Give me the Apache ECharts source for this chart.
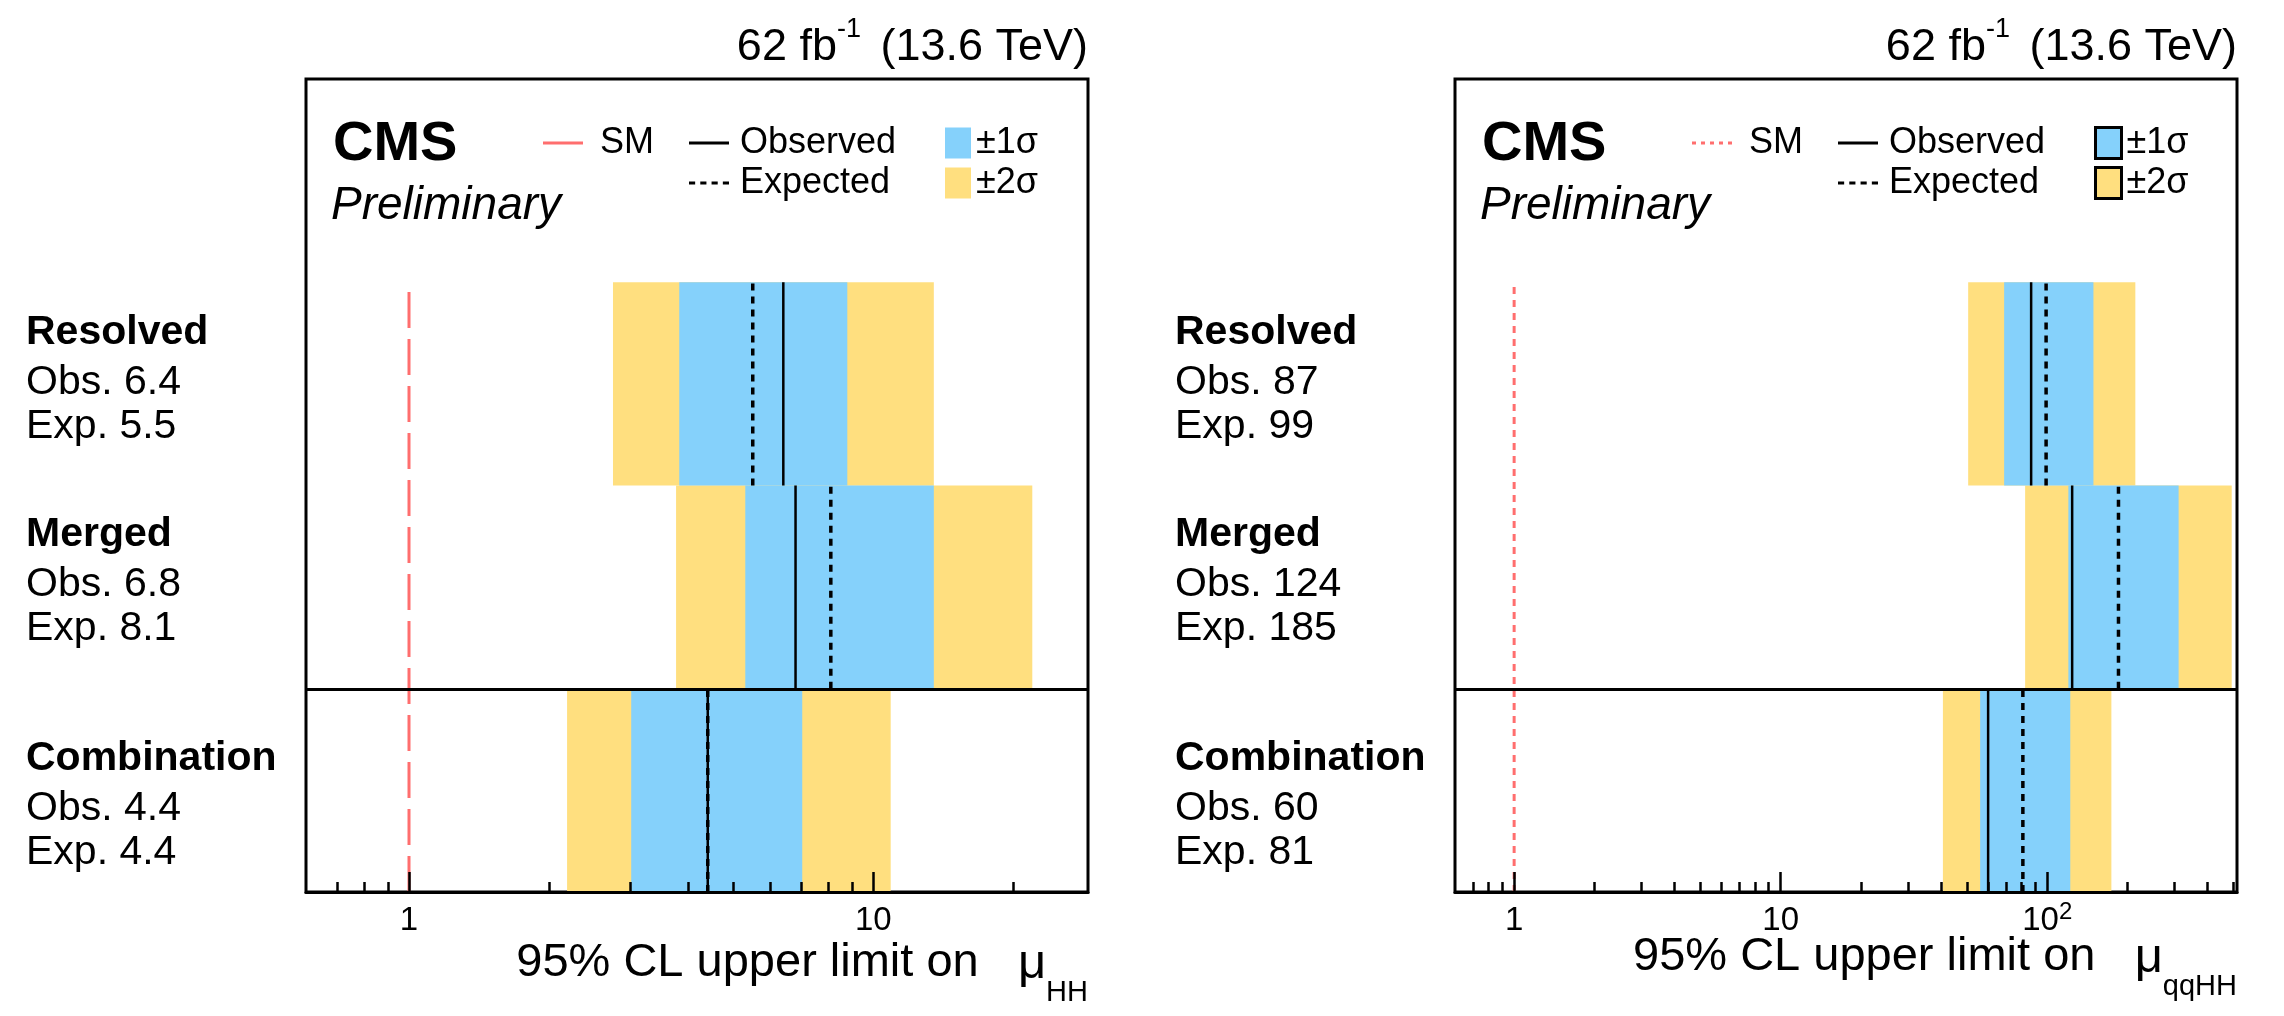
<!DOCTYPE html>
<html><head><meta charset="utf-8">
<script src="https://cdn.jsdelivr.net/npm/echarts@6/dist/echarts.min.js"></script>
<style>html,body{margin:0;padding:0;background:#fff}#c{width:2284px;height:1016px}</style>
</head><body><div id="c"></div>
<script>
// ---------------- data ----------------
const rows = ['Combination', 'Merged', 'Resolved'];   // bottom -> top
// left panel: mu_HH
const hhObs = [4.4, 6.8, 6.4];
const hhExp = [4.4, 8.1, 5.5];
const hhLo2 = [2.19, 3.76, 2.75];
const hhLo1 = [3.01, 5.30, 3.82];
const hhHi1 = [7.03, 13.5, 8.79];
const hhHi2 = [10.9, 22.0, 13.5];
// right panel: mu_qqHH
const qqObs = [60, 124, 87];
const qqExp = [81, 185, 99];
const qqLo2 = [40.6, 82.6, 50.5];
const qqLo1 = [56.0, 120, 68.9];
const qqHi1 = [122, 311, 149];
const qqHi2 = [174, 492, 214];
const smValue = 1;
// axis ticks
const hhMajorTicks = [1, 10];
const hhMajorLabels = ['1', '10'];
const hhMinorTicks = [0.7, 0.8, 0.9, 2, 3, 4, 5, 6, 7, 8, 9, 20];
const qqMajorTicks = [1, 10, 100];
const qqMajorLabels = ['1', '10', '10^2'];
const qqMinorTicks = [0.7, 0.8, 0.9, 2, 3, 4, 5, 6, 7, 8, 9, 20, 30, 40, 50, 60, 70, 80, 90, 200, 300, 400, 500];
const lumiParts = ['62 fb', '-1', '(13.6 TeV)'];
const axisTitles = [['95% CL upper limit on', 'μ', 'HH'], ['95% CL upper limit on', 'μ', 'qqHH']];
const legendNames = { sm: 'SM', obs: 'Observed', exp: 'Expected', s1: '±1σ', s2: '±2σ' };

// ---------------- style ----------------
const FONT = '"Liberation Sans", Arial, Helvetica, sans-serif';
const BLUE = '#85D1FB', YELLOW = '#FFDF7F', RED = '#ff6e6e';
const ICON_SOLID = 'path://M0,0H40V3H0Z';
const ICON_EXP = 'path://M0,0h6v3h-6zM11,0h6v3h-6zM22,0h6v3h-6zM33,0h6v3h-6z';
const ICON_DOT = 'path://M0,0h4v3h-4zM9,0h4v3h-4zM18,0h4v3h-4zM27,0h4v3h-4zM36,0h4v3h-4z';
const chart = echarts.init(document.getElementById('c'));

function bandSeries(name, lo, hi, color, idx) {
  return {
    type: 'custom', name: name, xAxisIndex: idx * 2, yAxisIndex: idx, z: 1,
    itemStyle: { color: color }, silent: true,
    encode: { x: [0, 1], y: 2 },
    data: rows.map((r, i) => [lo[i], hi[i], i]),
    renderItem: function (params, api) {
      const p0 = api.coord([api.value(0), api.value(2)]);
      const p1 = api.coord([api.value(1), api.value(2) + 1]);
      return { type: 'rect', shape: { x: p0[0], y: p1[1], width: p1[0] - p0[0], height: p0[1] - p1[1] }, style: { fill: color } };
    }
  };
}
function segData(vals) {
  const d = [];
  vals.forEach((v, i) => { d.push([v, i], [v, i + 1]); if (i < vals.length - 1) d.push([v, '-']); });
  return d;
}
function lineSeries(name, vals, style, idx) {
  return {
    type: 'line', name: name, xAxisIndex: idx * 2, yAxisIndex: idx, z: 3,
    symbol: 'none', connectNulls: false, silent: true,
    lineStyle: style, itemStyle: { color: style.color },
    emphasis: { disabled: true },
    data: segData(vals)
  };
}
function panelSeries(idx, lo2, lo1, hi1, hi2, obs, exp, smDash) {
  const sfx = idx === 0 ? '|L' : '|R';
  return [
    bandSeries(legendNames.s2 + sfx, lo2, hi2, YELLOW, idx),
    bandSeries(legendNames.s1 + sfx, lo1, hi1, BLUE, idx),
    {
      type: 'line', name: legendNames.sm + sfx, xAxisIndex: idx * 2, yAxisIndex: idx, z: 3,
      symbol: 'none', silent: true, emphasis: { disabled: true },
      lineStyle: { color: RED, width: 3, type: smDash }, itemStyle: { color: RED },
      data: [[smValue, 0], [smValue, 3]],
      markLine: {
        silent: true, symbol: 'none', label: { show: false }, animation: false,
        lineStyle: { color: '#000', width: 3, type: 'solid' },
        data: [{ yAxis: 1 }]
      }
    },
    lineSeries(legendNames.obs + sfx, obs, { color: '#000', width: 2.5, type: 'solid' }, idx),
    lineSeries(legendNames.exp + sfx, exp, { color: '#000', width: 3.5, type: [7, 6] }, idx)
  ];
}

function yAxisFor(idx, obs, exp) {
  return {
    type: 'value', gridIndex: idx, min: 0, max: 4,
    axisLine: { show: false }, axisTick: { show: false }, splitLine: { show: false },
    axisLabel: {
      customValues: [0.439, 1.541, 2.535],
      align: 'left', margin: 280, color: '#000',
      formatter: function (v) {
        const i = Math.floor(v);
        return '{b|' + rows[i] + '}\n{n|Obs. ' + obs[i] + '}\n{n|Exp. ' + exp[i] + '}';
      },
      rich: {
        b: { fontFamily: FONT, fontWeight: 'bold', fontSize: 41, lineHeight: 56, color: '#000', align: 'left' },
        n: { fontFamily: FONT, fontSize: 41, lineHeight: 44, color: '#000', align: 'left' }
      }
    }
  };
}
function xAxesFor(idx, max, majors, labels, minors) {
  const major = {
    type: 'log', gridIndex: idx, min: 0.6, max: max, position: 'bottom', z: 10,
    axisLine: { show: true, lineStyle: { color: '#000', width: 3 } },
    axisTick: { show: true, inside: true, length: 20, customValues: majors, lineStyle: { color: '#000', width: 2.5 } },
    splitLine: { show: false },
    axisLabel: {
      customValues: majors, margin: 8, color: '#000',
      formatter: function (v) {
        let k = 0, best = Infinity;
        majors.forEach((m, j) => { const d = Math.abs(Math.log10(m) - Math.log10(v)); if (d < best) { best = d; k = j; } });
        const parts = labels[k].split('^');
        return parts.length > 1 ? '{b|' + parts[0] + '}{s|' + parts[1] + '}' : '{b|' + parts[0] + '}';
      },
      rich: {
        b: { fontFamily: FONT, fontSize: 33, lineHeight: 37, verticalAlign: 'bottom', color: '#000' },
        s: { fontFamily: FONT, fontSize: 24, lineHeight: 24, verticalAlign: 'top', color: '#000' }
      }
    }
  };
  const minor = {
    type: 'log', gridIndex: idx, min: 0.6, max: max, position: 'bottom', z: 10,
    axisLine: { show: false },
    axisTick: { show: true, inside: true, length: 10, customValues: minors, lineStyle: { color: '#000', width: 2.5 } },
    axisLabel: { show: false }, splitLine: { show: false }
  };
  return [major, minor];
}

function legendsFor(idx, dx, boxed, smIcon) {
  const sfx = idx === 0 ? '|L' : '|R';
  const fmt = n => n.split('|')[0];
  const common = {
    padding: 0, itemHeight: 31, itemGap: 3, selectedMode: false, orient: 'vertical', formatter: fmt,
    textStyle: { fontFamily: FONT, fontSize: 36, lineHeight: 30, color: '#000', padding: [0, 0, 7, 0] }
  };
  const tsWith = pl => Object.assign({}, common.textStyle, { padding: [0, 0, 7, pl] });
  const boxStyle = c => boxed ? { color: c, borderColor: '#000', borderWidth: 3 } : { color: c };
  return [
    Object.assign({}, common, { left: 543 + dx, top: 124.5, itemWidth: 40, textStyle: tsWith(12),
      data: [{ name: legendNames.sm + sfx, icon: smIcon, itemStyle: { color: RED } }] }),
    Object.assign({}, common, { left: 689 + dx, top: 124.5, itemWidth: 40, textStyle: tsWith(6),
      data: [{ name: legendNames.obs + sfx, icon: ICON_SOLID, itemStyle: { color: '#000' } },
             { name: legendNames.exp + sfx, icon: ICON_EXP, itemStyle: { color: '#000' } }] }),
    Object.assign({}, common, {
      left: 945 + dx, top: 124.5, itemWidth: 26, textStyle: tsWith(0),
      data: [
        { name: legendNames.s1 + sfx, icon: 'rect', itemStyle: boxStyle(BLUE) },
        { name: legendNames.s2 + sfx, icon: 'rect', itemStyle: boxStyle(YELLOW) }
      ]
    })
  ];
}

function titlesFor(dx, rightPx, axTitle, axTop) {
  return [
    {
      text: '{a|' + lumiParts[0] + '}{s|' + lumiParts[1] + '}{g| }{a|' + lumiParts[2] + '}',
      right: rightPx, top: 16, padding: 0,
      textStyle: {
        fontWeight: 'normal',
        rich: {
          a: { fontFamily: FONT, fontWeight: 'normal', fontSize: 45, lineHeight: 54, verticalAlign: 'bottom', color: '#000' },
          s: { fontFamily: FONT, fontWeight: 'normal', fontSize: 27, lineHeight: 27, verticalAlign: 'top', color: '#000' },
          g: { fontFamily: FONT, fontWeight: 'normal', fontSize: 70, lineHeight: 10, verticalAlign: 'bottom', color: '#000' }
        }
      }
    },
    { text: 'CMS', left: 333 + dx, top: 117, padding: 0, textStyle: { fontFamily: FONT, fontSize: 56, fontWeight: 'bold', color: '#000' } },
    { text: 'Preliminary', left: 331 + dx, top: 183, padding: 0, textStyle: { fontFamily: FONT, fontSize: 46, fontStyle: 'italic', fontWeight: 'normal', color: '#000' } },
    {
      text: '{t|' + axTitle[0] + '}{t|   }{m|' + axTitle[1] + '}{s|' + axTitle[2] + '}',
      right: rightPx, top: axTop, padding: 0,
      textStyle: {
        fontWeight: 'normal',
        rich: {
          t: { fontFamily: FONT, fontWeight: 'normal', fontSize: 47, lineHeight: 47, verticalAlign: 'top', color: '#000' },
          m: { fontFamily: FONT, fontWeight: 'normal', fontSize: 49, lineHeight: 49, verticalAlign: 'top', color: '#000' },
          s: { fontFamily: FONT, fontWeight: 'normal', fontSize: 29, lineHeight: 67, verticalAlign: 'bottom', color: '#000' }
        }
      }
    }
  ];
}

const option = {
  animation: false,
  backgroundColor: '#fff',
  title: titlesFor(0, 2284 - 1088, axisTitles[0], 940).concat(titlesFor(1149, 2284 - 2237, axisTitles[1], 934)),
  legend: legendsFor(0, 0, false, ICON_SOLID).concat(legendsFor(1, 1149, true, ICON_DOT)),
  grid: [
    { left: 306, right: 2284 - 1088, top: 79, bottom: 1016 - 892, show: true, borderColor: '#000', borderWidth: 3, backgroundColor: 'transparent', outerBoundsMode: 'none', containLabel: false },
    { left: 1455, right: 2284 - 2237, top: 79, bottom: 1016 - 892, show: true, borderColor: '#000', borderWidth: 3, backgroundColor: 'transparent', outerBoundsMode: 'none', containLabel: false }
  ],
  xAxis: xAxesFor(0, 29, hhMajorTicks, hhMajorLabels, hhMinorTicks)
    .concat(xAxesFor(1, 515, qqMajorTicks, qqMajorLabels, qqMinorTicks)),
  yAxis: [yAxisFor(0, hhObs, hhExp), yAxisFor(1, qqObs, qqExp)],
  series: panelSeries(0, hhLo2, hhLo1, hhHi1, hhHi2, hhObs, hhExp, [36, 11])
    .concat(panelSeries(1, qqLo2, qqLo1, qqHi1, qqHi2, qqObs, qqExp, [7, 6]))
};
chart.setOption(option);
</script>
</body></html>
